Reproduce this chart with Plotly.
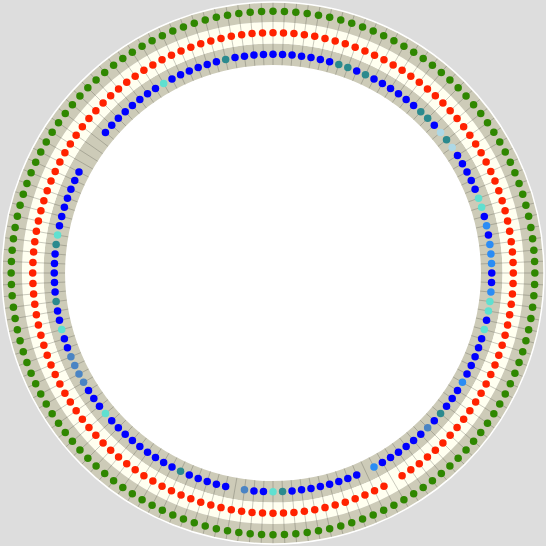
import plotly.graph_objects as go

# ---- data ----
N = 144
theta = [i * 2.5 for i in range(N)]          # angular categories (degrees)

ring_green = 5
ring_red = 3
ring_blue = 1
r_max = 5.85

red_missing = [60]
blue_missing = [62, 76, 120, 121, 122, 123]

blue_special = {
    7: "teal", 8: "teal", 10: "teal",
    17: "teal", 18: "teal", 20: "lightblue", 21: "teal", 22: "lightblue",
    28: "turq", 29: "turq", 31: "dodger", 33: "dodger", 34: "dodger", 35: "dodger",
    38: "dodger", 39: "turq", 40: "turq", 42: "turq",
    48: "dodger", 52: "teal", 54: "steel", 61: "dodger",
    71: "teal", 72: "turq", 75: "steel", 82: "teal", 92: "turq",
    96: "steel", 97: "steel", 98: "steel", 99: "steel",
    102: "turq", 105: "teal", 111: "teal", 112: "turq", 132: "turq", 139: "teal",
}

palette = {
    "blue": "#0000ff", "teal": "#2b8a8e", "turq": "#5fe0d0",
    "lightblue": "#add8e6", "dodger": "#2a8cf5", "steel": "#4a84c4",
}

band_base = [0, 2, 4]
band_height = [2, 2, r_max - 4]
band_colors = ["#cdcbb8", "#fffff0", "#cdcbb8"]

# ---- derived series ----
green_r = [ring_green] * N
red_r = [None if i in red_missing else ring_red for i in range(N)]
blue_r = [None if i in blue_missing else ring_blue for i in range(N)]
blue_c = [palette[blue_special.get(i, "blue")] for i in range(N)]

grid_t, grid_r = [], []
for t in theta:
    grid_t += [t, t, None]
    grid_r += [0, r_max, None]

fig = go.Figure()
fig.add_trace(go.Barpolar(r=band_height, base=band_base, theta=[0, 0, 0],
                          width=[360, 360, 360],
                          marker=dict(color=band_colors, line=dict(width=0)),
                          hoverinfo="skip", showlegend=False))
fig.add_trace(go.Scatterpolar(r=grid_r, theta=grid_t, mode="lines",
                              line=dict(color="rgba(90,90,80,0.32)", width=1),
                              hoverinfo="skip", showlegend=False))
fig.add_trace(go.Scatterpolar(r=green_r, theta=theta, mode="markers",
                              marker=dict(color="#2f8700", size=7.5),
                              showlegend=False))
fig.add_trace(go.Scatterpolar(r=red_r, theta=theta, mode="markers",
                              marker=dict(color="#ff2200", size=7.5),
                              showlegend=False))
fig.add_trace(go.Scatterpolar(r=blue_r, theta=theta, mode="markers",
                              marker=dict(color=blue_c, size=7.5),
                              showlegend=False))

fig.update_layout(
    width=546, height=546,
    margin=dict(l=2, r=2, t=2, b=2),
    paper_bgcolor="#dddddd",
    polar=dict(
        bgcolor="#ffffff",
        barmode="overlay",
        domain=dict(x=[0, 1], y=[0, 1]),
        radialaxis=dict(visible=False, range=[-19.3, r_max]),
        angularaxis=dict(rotation=90, direction="clockwise", showticklabels=False,
                         ticks="", showgrid=False, showline=True,
                         linecolor="#ffffff", linewidth=1.5),
    ),
)

fig.write_html("out.html")
